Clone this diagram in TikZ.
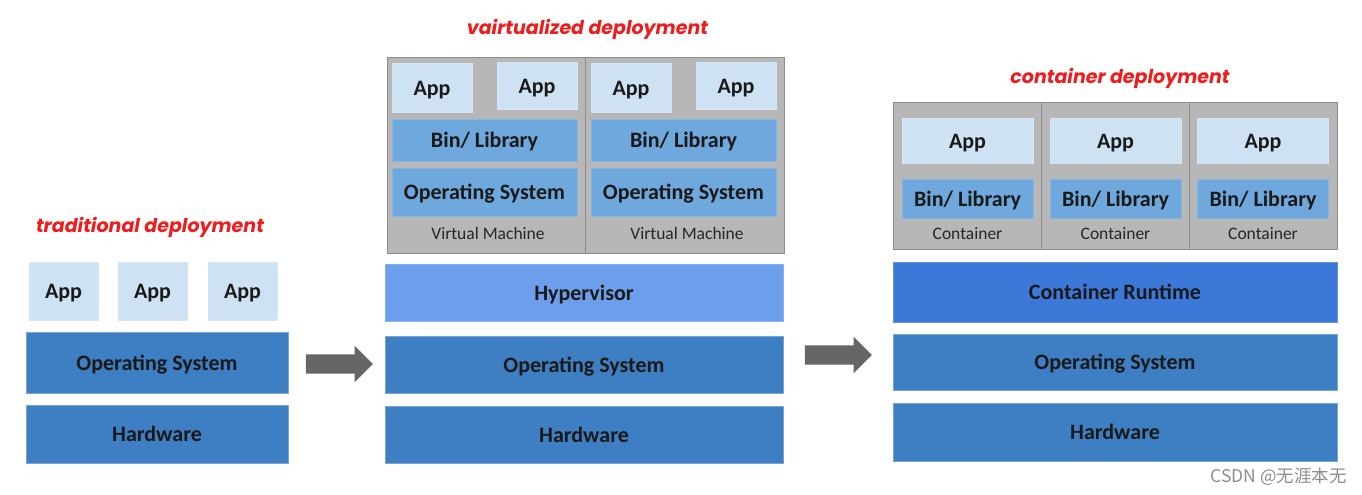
\documentclass[tikz,border=0pt]{standalone}
\usepackage{fontspec}
\setmainfont{Carlito}
\newfontfamily\titlefont{Poppins}
\newfontfamily\cjk{Noto Sans CJK SC}
\usetikzlibrary{shapes.arrows}
\definecolor{osblue}{HTML}{3D7FC2}
\definecolor{appblue}{HTML}{CFE2F3}
\definecolor{libblue}{HTML}{6FA8DC}
\definecolor{hypblue}{HTML}{6D9EEB}
\definecolor{rtblue}{HTML}{3C78D8}
\definecolor{vmgray}{HTML}{B7B7B7}
\definecolor{arrowgray}{HTML}{666666}
\definecolor{titlered}{HTML}{EE1C1C}
\begin{document}
\begin{tikzpicture}[x=1pt,y=1pt]
\tikzstyle{every node}+=[inner sep=0pt]
\tikzstyle{boxtext}=[font=\fontsize{22}{26}\selectfont\bfseries, text=black!90, text height=15pt, text depth=0pt]
\tikzstyle{layer}=[boxtext, fill=osblue, draw=osblue!70!white]
\tikzstyle{app}=[boxtext, fill=appblue, draw=appblue!90!white]
\tikzstyle{lib}=[boxtext, fill=libblue, draw=libblue!85!white]
\tikzstyle{machine}=[fill=vmgray, draw=black!45, line width=0.8pt]
\tikzstyle{smalltext}=[font=\fontsize{17.5}{20}\selectfont, text=black!85]
\tikzstyle{title}=[font=\titlefont\fontsize{19}{22}\selectfont\bfseries\itshape, text=titlered]
\tikzstyle{bigarrow}=[single arrow, fill=arrowgray, inner xsep=0pt, inner ysep=9.5pt, single arrow head extend=8.5pt, single arrow head indent=0pt]
\useasboundingbox (0,0) rectangle (1362,-495);
% traditional deployment
\node [title] (tradtitle) at (150,-227) {traditional deployment};
\node [app, minimum width=69, minimum height=58] (tapp1) at (63.5,-291) {App};
\node [app, minimum width=69, minimum height=58] (tapp2) at (152.5,-291) {App};
\node [app, minimum width=69, minimum height=58] (tapp3) at (242.5,-291) {App};
\node [layer, minimum width=262, minimum height=61] (tos) at (157,-362.5) {Operating System};
\node [layer, minimum width=262, minimum height=58] (thw) at (157,-434) {Hardware};
% arrow
\node [bigarrow, minimum height=67] (arrow1) at (334.5,-364) {};
% virtualized deployment
\node [title] (virttitle) at (587.5,-29) {vairtualized deployment};
\node [machine, minimum width=198, minimum height=196] (vm1) at (486,-155) {};
\node [machine, minimum width=199, minimum height=196] (vm2) at (684.5,-155) {};
\node [app, minimum width=80, minimum height=49] (vapp1) at (432,-87.5) {App};
\node [app, minimum width=80, minimum height=47] (vapp2) at (537,-85.5) {App};
\node [app, minimum width=80, minimum height=49] (vapp3) at (631,-87.5) {App};
\node [app, minimum width=80, minimum height=47] (vapp4) at (736,-85.5) {App};
\node [lib, minimum width=185, minimum height=42] (vlib1) at (484.5,-140) {Bin/ Library};
\node [lib, minimum width=185, minimum height=42] (vlib2) at (683.5,-140) {Bin/ Library};
\node [lib, minimum width=185, minimum height=48] (vos1) at (484.5,-192) {Operating System};
\node [lib, minimum width=185, minimum height=48] (vos2) at (683.5,-192) {Operating System};
\node [smalltext] (vmlabel1) at (488,-233) {Virtual Machine};
\node [smalltext] (vmlabel2) at (687,-233) {Virtual Machine};
\node [layer, fill=hypblue, draw=hypblue!80!white, minimum width=398, minimum height=57] (hyper) at (584,-292.5) {Hypervisor};
\node [layer, minimum width=398, minimum height=57] (vos) at (584,-364.5) {Operating System};
\node [layer, minimum width=398, minimum height=57] (vhw) at (584,-434.5) {Hardware};
% arrow
\node [bigarrow, minimum height=67] (arrow2) at (833.5,-355) {};
% container deployment
\node [title] (conttitle) at (1120,-78) {container deployment};
\node [machine, minimum width=148, minimum height=147] (box1) at (967,-175.5) {};
\node [machine, minimum width=148, minimum height=147] (box2) at (1115,-175.5) {};
\node [machine, minimum width=148, minimum height=147] (box3) at (1263,-175.5) {};
\node [app, minimum width=131, minimum height=45] (capp1) at (967.5,-140.5) {App};
\node [app, minimum width=131, minimum height=45] (capp2) at (1115.5,-140.5) {App};
\node [app, minimum width=131, minimum height=45] (capp3) at (1263,-140.5) {App};
\node [lib, minimum width=131, minimum height=39] (clib1) at (967.5,-198.5) {Bin/ Library};
\node [lib, minimum width=131, minimum height=39] (clib2) at (1115.5,-198.5) {Bin/ Library};
\node [lib, minimum width=131, minimum height=39] (clib3) at (1263,-198.5) {Bin/ Library};
\node [smalltext] (clabel1) at (967.5,-234) {Container};
\node [smalltext] (clabel2) at (1115.5,-234) {Container};
\node [smalltext] (clabel3) at (1263,-234) {Container};
\node [layer, fill=rtblue, draw=rtblue!80!white, minimum width=444, minimum height=60] (runtime) at (1115,-292) {Container Runtime};
\node [layer, minimum width=444, minimum height=56] (cos) at (1115,-362) {Operating System};
\node [layer, minimum width=444, minimum height=58] (chw) at (1115,-432) {Hardware};
% watermark
\node [font=\cjk\fontsize{17.5}{20}\selectfont, text=black!45, anchor=east] (mark) at (1347,-477) {CSDN @无涯本无};
\end{tikzpicture}
\end{document}
